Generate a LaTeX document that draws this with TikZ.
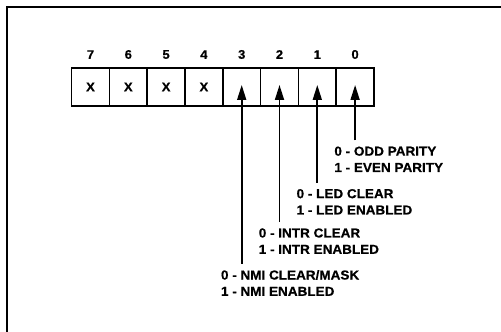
\documentclass[tikz,border=0pt]{standalone}
\usepackage{fontspec}
\setmainfont{Liberation Sans}[BoldFeatures={FakeStretch=1.04, FakeBold=0.6}]
\usetikzlibrary{arrows.meta, positioning}

\begin{document}
\begin{tikzpicture}[
            x=1pt, y=1pt,
            bitbox/.style={draw, line width=1.5pt, minimum size=37.8pt, inner sep=0pt, outer sep=0pt, font=\fontsize{12.5pt}{15pt}\selectfont\bfseries},
            bitnum/.style={inner sep=0pt, font=\fontsize{12.5pt}{15pt}\selectfont\bfseries},
            desc/.style={align=left, inner sep=0pt, font=\fontsize{13pt}{16.3pt}\selectfont\bfseries},
            arrow/.style={-{Triangle[length=15pt, width=9pt]}, line width=1.7pt, shorten <=6pt}
        ]
            \useasboundingbox (0,0) rectangle (501,332);
            \draw[line width=1.8pt] (7,0) -- (7,325) -- (501,325);
            % register bits
            \node[bitbox] at (90.5,245) (b7) {X};
            \node[bitbox, right=0pt of b7] (b6) {X};
            \node[bitbox, right=0pt of b6] (b5) {X};
            \node[bitbox, right=0pt of b5] (b4) {X};
            \node[bitbox, right=0pt of b4] (b3) {};
            \node[bitbox, right=0pt of b3] (b2) {};
            \node[bitbox, right=0pt of b2] (b1) {};
            \node[bitbox, right=0pt of b1] (b0) {};
            \node[bitnum, above=9pt of b7] (n7) {7};
            \node[bitnum, above=9pt of b6] (n6) {6};
            \node[bitnum, above=9pt of b5] (n5) {5};
            \node[bitnum, above=9pt of b4] (n4) {4};
            \node[bitnum, above=9pt of b3] (n3) {3};
            \node[bitnum, above=9pt of b2] (n2) {2};
            \node[bitnum, above=9pt of b1] (n1) {1};
            \node[bitnum, above=9pt of b0] (n0) {0};
            % bit meanings
            \node[desc, below=40.5pt of b0.south west, anchor=north west, xshift=-2pt] (d0) {0 - ODD PARITY\\1 - EVEN PARITY};
            \node[desc, below=83pt of b1.south west, anchor=north west, xshift=-2pt] (d1) {0 - LED CLEAR\\1 - LED ENABLED};
            \node[desc, below=122.3pt of b2.south west, anchor=north west, xshift=-2pt] (d2) {0 - INTR CLEAR\\1 - INTR ENABLED};
            \node[desc, below=164pt of b3.south west, anchor=north west, xshift=-2pt] (d3) {0 - NMI CLEAR/MASK\\1 - NMI ENABLED};
            \draw[arrow] (d0.north -| b0.center) -- ([yshift=2pt]b0.center);
            \draw[arrow] (d1.north -| b1.center) -- ([yshift=2pt]b1.center);
            \draw[arrow] (d2.north -| b2.center) -- ([yshift=2pt]b2.center);
            \draw[arrow] (d3.north -| b3.center) -- ([yshift=2pt]b3.center);
        \end{tikzpicture}
\end{document}
